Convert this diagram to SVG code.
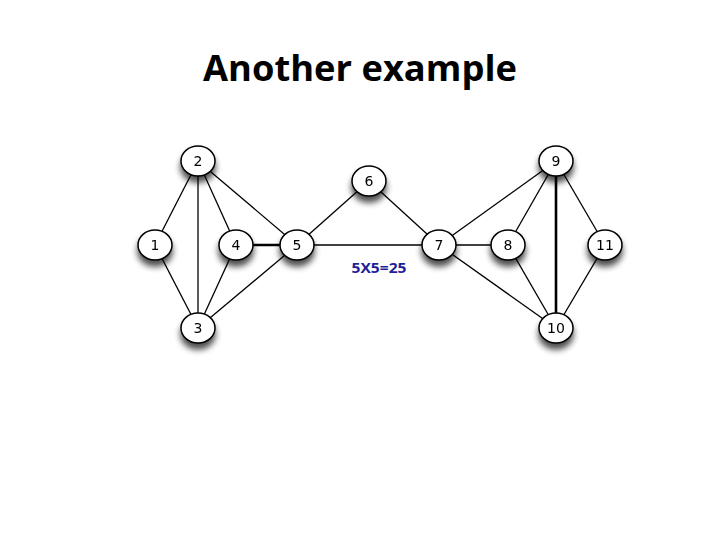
<svg xmlns="http://www.w3.org/2000/svg" width="720" height="540" viewBox="0 0 720 540">
<style>
.e{stroke:#000;stroke-width:1.3;fill:none}
.t{stroke-width:2.6}
.n ellipse{fill:#fff;stroke:#000;stroke-width:1.5}
.n text{font-family:"DejaVu Sans",sans-serif;font-size:14px;text-anchor:middle;fill:#000}
</style>
<defs>
<filter id="sh" x="-50%" y="-50%" width="200%" height="220%">
<feGaussianBlur in="SourceAlpha" stdDeviation="3"/>
<feOffset dx="0" dy="6" result="b"/>
<feComponentTransfer><feFuncA type="linear" slope="0.7"/></feComponentTransfer>
<feMerge><feMergeNode/><feMergeNode in="SourceGraphic"/></feMerge>
</filter>
</defs>
<rect width="720" height="540" fill="#fff"/>
<text x="360" y="81" font-family="'Open Sans','DejaVu Sans',sans-serif" font-weight="bold" font-size="35" text-anchor="middle" textLength="314" lengthAdjust="spacingAndGlyphs">Another example</text>
<g id="connectors">
<line class="e" x1="198" y1="161" x2="155" y2="245"/>
<line class="e" x1="155" y1="245" x2="198" y2="328"/>
<line class="e" x1="198" y1="161" x2="198" y2="328"/>
<line class="e" x1="198" y1="161" x2="236" y2="245"/>
<line class="e" x1="198" y1="161" x2="297" y2="245"/>
<line class="e" x1="236" y1="245" x2="198" y2="328"/>
<line class="e t" x1="236" y1="245" x2="297" y2="245"/>
<line class="e" x1="297" y1="245" x2="198" y2="328"/>
<line class="e" x1="297" y1="245" x2="369" y2="181"/>
<line class="e" x1="297" y1="245" x2="439" y2="245"/>
<line class="e" x1="369" y1="181" x2="439" y2="245"/>
<line class="e" x1="439" y1="245" x2="556" y2="161"/>
<line class="e" x1="439" y1="245" x2="508" y2="245"/>
<line class="e" x1="439" y1="245" x2="556" y2="328"/>
<line class="e" x1="508" y1="245" x2="556" y2="161"/>
<line class="e" x1="508" y1="245" x2="556" y2="328"/>
<line class="e t" x1="556" y1="161" x2="556" y2="328"/>
<line class="e" x1="556" y1="161" x2="605" y2="245"/>
<line class="e" x1="605" y1="245" x2="556" y2="328"/>
</g>
<g class="n" id="n1" filter="url(#sh)"><ellipse cx="155" cy="245" rx="17" ry="15"/><text x="155" y="250">1</text></g>
<g class="n" id="n2" filter="url(#sh)"><ellipse cx="198" cy="161" rx="17" ry="15"/><text x="198" y="166">2</text></g>
<g class="n" id="n3" filter="url(#sh)"><ellipse cx="198" cy="328" rx="17" ry="15"/><text x="198" y="333">3</text></g>
<g class="n" id="n4" filter="url(#sh)"><ellipse cx="236" cy="245" rx="17" ry="15"/><text x="236" y="250">4</text></g>
<g class="n" id="n5" filter="url(#sh)"><ellipse cx="297" cy="245" rx="17" ry="15"/><text x="297" y="250">5</text></g>
<g class="n" id="n6" filter="url(#sh)"><ellipse cx="369" cy="181" rx="17" ry="15"/><text x="369" y="186">6</text></g>
<g class="n" id="n7" filter="url(#sh)"><ellipse cx="439" cy="245" rx="17" ry="15"/><text x="439" y="250">7</text></g>
<g class="n" id="n8" filter="url(#sh)"><ellipse cx="508" cy="245" rx="17" ry="15"/><text x="508" y="250">8</text></g>
<g class="n" id="n9" filter="url(#sh)"><ellipse cx="556" cy="161" rx="17" ry="15"/><text x="556" y="166">9</text></g>
<g class="n" id="n10" filter="url(#sh)"><ellipse cx="556" cy="328" rx="17" ry="15"/><text x="556" y="333">10</text></g>
<g class="n" id="n11" filter="url(#sh)"><ellipse cx="605" cy="245" rx="17" ry="15"/><text x="605" y="250">11</text></g>
<text x="379" y="273" font-family="'Open Sans','DejaVu Sans',sans-serif" font-weight="bold" font-size="14" fill="#1f1f99" text-anchor="middle" textLength="55" lengthAdjust="spacingAndGlyphs">5X5=25</text>
</svg>
